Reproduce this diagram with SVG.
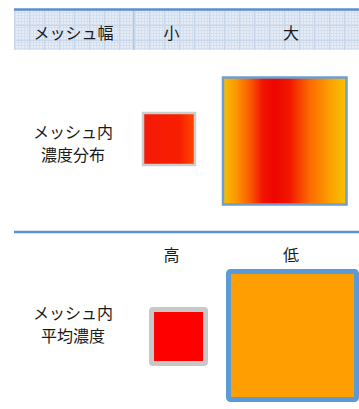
<svg xmlns="http://www.w3.org/2000/svg" width="359" height="409" viewBox="0 0 359 409">
<style>
.t{font-family:"Noto Sans CJK JP","Noto Sans CJK SC",sans-serif;font-size:16px;fill:#1a1a1a;text-anchor:middle}
.rule{stroke:#5b8fcf;stroke-width:2.5}
</style>
<defs>
<pattern id="fine" width="3" height="3" patternUnits="userSpaceOnUse">
<rect width="3" height="3" fill="#e6edf6"/>
<path d="M0 0.5H3M0.5 0V3" stroke="#d3deee" stroke-width="1"/>
</pattern>
<pattern id="coarse" width="15" height="15" patternUnits="userSpaceOnUse" x="14" y="10">
<path d="M0 0.5H15M0.5 0V15" stroke="#c9d6e9" stroke-width="1"/>
</pattern>
<linearGradient id="gSmall" x1="0" y1="0" x2="1" y2="0">
<stop offset="0" stop-color="#f51a0a"/>
<stop offset="0.7" stop-color="#f81e00"/>
<stop offset="1" stop-color="#ff4a00"/>
</linearGradient>
<linearGradient id="gLarge" x1="0" y1="0" x2="1" y2="0">
<stop offset="0" stop-color="#f7c100"/>
<stop offset="0.1" stop-color="#fb9a00"/>
<stop offset="0.22" stop-color="#fb5a00"/>
<stop offset="0.32" stop-color="#f21400"/>
<stop offset="0.42" stop-color="#ee0500"/>
<stop offset="0.54" stop-color="#f21800"/>
<stop offset="0.7" stop-color="#fb6a00"/>
<stop offset="0.86" stop-color="#fc9e00"/>
<stop offset="1" stop-color="#f7c400"/>
</linearGradient>
</defs>

<g id="header">
<rect x="14" y="10" width="345" height="40" fill="url(#fine)"/>
<rect x="14" y="10" width="345" height="40" fill="url(#coarse)"/>
<line class="rule" x1="14" y1="9.5" x2="359" y2="9.5"/>
<line x1="133.5" y1="11" x2="133.5" y2="50" stroke="#b3c6df" stroke-width="1"/>
<text class="t" x="73.5" y="39">メッシュ幅</text>
<text class="t" x="171.5" y="39">小</text>
<text class="t" x="291" y="39">大</text>
</g>

<g id="label-distribution">
<text class="t" x="73" y="138">メッシュ内</text>
<text class="t" x="73" y="161">濃度分布</text>
</g>

<g id="small-distribution">
<rect x="143" y="113" width="52" height="52" fill="url(#gSmall)" stroke="#c9cfcb" stroke-width="2.5"/>
</g>

<g id="large-distribution">
<rect x="223" y="77.5" width="123.5" height="127" fill="url(#gLarge)" stroke="#6c9fd0" stroke-width="2.5"/>
</g>

<g id="divider">
<line class="rule" x1="14" y1="232" x2="359" y2="232"/>
</g>

<g id="header2">
<text class="t" x="171.5" y="261">高</text>
<text class="t" x="291" y="261">低</text>
</g>

<g id="label-average">
<text class="t" x="73" y="319">メッシュ内</text>
<text class="t" x="73" y="342">平均濃度</text>
</g>

<g id="small-average">
<rect x="151.5" y="309.5" width="54" height="54" rx="1.5" fill="#ff0000" stroke="#c8c8c8" stroke-width="5"/>
</g>

<g id="large-average">
<rect x="228.5" y="271.5" width="128" height="128" rx="2" fill="#ff9e00" stroke="#5b9bd5" stroke-width="5"/>
</g>
</svg>
